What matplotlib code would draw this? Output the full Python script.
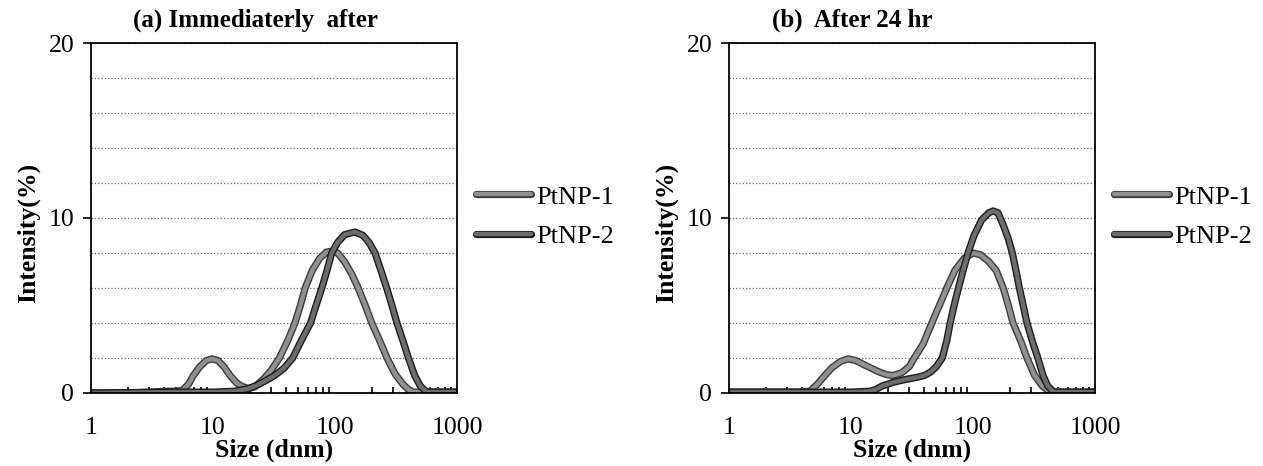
import numpy as np
import matplotlib
matplotlib.use('Agg')
import matplotlib.pyplot as plt
import matplotlib.patheffects as pe
from matplotlib.ticker import LogLocator, FixedLocator, NullFormatter

plt.rcParams['font.family'] = ['Liberation Serif', 'DejaVu Serif']

# (a) immediately after
a1_size = [1, 2, 3, 4, 5, 5.6, 6.3, 6.9, 7.8, 8.8, 9.8, 11, 12.3, 13.8, 15.5, 17, 19.5,
           22, 26, 30, 35, 41, 47, 52, 57, 65, 75, 85, 94, 105, 120, 137, 155, 177, 200,
           232, 267, 310, 360, 400, 437, 500, 600, 1000]
a1_int = [0, 0, 0.05, 0.1, 0.1, 0.15, 0.5, 1.0, 1.5, 1.85, 1.95, 1.85, 1.5, 1.0, 0.6, 0.4,
          0.25, 0.35, 0.8, 1.3, 2.0, 3.0, 4.0, 5.0, 6.0, 7.0, 7.7, 8.05, 8.1, 8.0, 7.5, 6.8,
          6.0, 5.0, 4.0, 3.0, 2.0, 1.1, 0.5, 0.2, 0.05, 0.05, 0.05, 0.05]
a2_size = [1, 5, 10, 15, 19.5, 23, 27, 32, 38, 45, 53, 63, 70, 78, 86, 94, 105, 120, 146,
           170, 190, 213, 238, 265, 293, 322, 360, 400, 450, 500, 565, 700, 1000]
a2_int = [0, 0.05, 0.05, 0.1, 0.25, 0.45, 0.7, 1.0, 1.4, 2.0, 3.0, 4.0, 5.0, 6.0, 7.0, 8.0,
          8.6, 9.05, 9.2, 9.0, 8.6, 8.0, 7.0, 6.0, 5.0, 4.0, 3.0, 2.0, 1.0, 0.4, 0.05, 0.05,
          0.05]

# (b) after 24 hr
b1_size = [1, 2, 3, 4, 4.6, 5.3, 6.1, 7, 8.2, 9.5, 11, 12.5, 14.3, 17, 19.5, 22, 26, 30,
           33, 39, 46, 53, 61, 71, 85, 100, 115, 135, 155, 177, 195, 213, 245, 277, 320,
           370, 427, 600, 1000]
b1_int = [0.05, 0.05, 0.05, 0.05, 0.1, 0.5, 1.0, 1.45, 1.8, 1.95, 1.85, 1.65, 1.45, 1.2,
          1.05, 1.0, 1.15, 1.5, 2.0, 2.8, 4.0, 5.0, 6.0, 7.0, 7.7, 8.0, 7.9, 7.5, 7.0, 6.0,
          5.0, 4.0, 3.0, 2.0, 1.0, 0.4, 0.05, 0.05, 0.05]
b2_size = [1, 5, 10, 14.3, 16, 18, 22, 27, 35, 40, 45, 50, 56, 61, 65, 70, 76, 83, 91, 102,
           118, 135, 146, 160, 177, 195, 210, 225, 240, 258, 277, 305, 340, 375, 410, 460,
           600, 1000]
b2_int = [0.05, 0.05, 0.05, 0.1, 0.2, 0.4, 0.6, 0.75, 0.9, 1.0, 1.2, 1.5, 2.0, 3.0, 4.0,
          5.0, 6.0, 7.0, 8.0, 9.0, 9.9, 10.3, 10.4, 10.3, 9.6, 8.8, 8.0, 7.0, 6.0, 5.0, 4.0,
          3.0, 2.0, 1.0, 0.4, 0.05, 0.05, 0.05]

labels = ['PtNP-1', 'PtNP-2']
fill_col = ['#909090', '#6c6c6c']
edge_col = ['#3c3c3c', '#1c1c1c']

fig = plt.figure(figsize=(12.63, 4.66), dpi=100)
ax_a = fig.add_axes([91 / 1263, 0.1567, 366 / 1263, 0.751])
ax_b = fig.add_axes([729 / 1263, 0.1567, 366 / 1263, 0.751])

panels = [(ax_a, [(a1_size, a1_int), (a2_size, a2_int)]),
          (ax_b, [(b1_size, b1_int), (b2_size, b2_int)])]

for ax, series in panels:
    for i, (s, v) in enumerate(series):
        ax.plot(s, v, color=fill_col[i], lw=3.2, solid_capstyle='round',
                solid_joinstyle='round', label=labels[i],
                path_effects=[pe.Stroke(linewidth=5.2, foreground=edge_col[i]),
                              pe.Normal()])
    ax.set_xscale('log')
    ax.set_xlim(1, 1000)
    ax.set_ylim(0, 20)
    ax.set_yticks([0, 10, 20])
    ax.yaxis.set_minor_locator(FixedLocator([2, 4, 6, 8, 12, 14, 16, 18]))
    ax.grid(True, which='both', axis='y', ls=':', lw=0.9, color='#6a6a6a')
    ax.set_xticks([1, 10, 100, 1000])
    ax.set_xticklabels(['1', '10', '100', '1000'])
    ax.xaxis.set_minor_locator(LogLocator(base=10, subs=np.arange(2, 10), numticks=10))
    ax.xaxis.set_minor_formatter(NullFormatter())
    ax.tick_params(axis='x', which='major', direction='in', length=0, pad=17,
                   labelsize=18.5)
    ax.tick_params(axis='x', which='minor', direction='in', length=4, width=1.2)
    ax.tick_params(axis='y', which='major', direction='out', length=6, width=1.2,
                   labelsize=18.5, pad=6)
    ax.tick_params(axis='y', which='minor', length=0)
    for sp in ax.spines.values():
        sp.set_linewidth(1.3)
    ax.set_xlabel('Size (dnm)', fontsize=18.5, fontweight='bold')
    ax.xaxis.set_label_coords(0.5, -0.13)
    ax.set_ylabel('Intensity(%)', fontsize=18.5, fontweight='bold')
    ax.yaxis.set_label_coords(-0.14, 0.457)
    ax.legend(loc='center left', bbox_to_anchor=(ax.get_position().x1 + 19 / 1263, 0.5354),
              bbox_transform=fig.transFigure, frameon=False, fontsize=19,
              handlelength=2.1, handletextpad=0.2, labelspacing=0.6, borderpad=0,
              borderaxespad=0)

fig.text(133 / 1263, 0.957, '(a) Immediaterly  after', fontsize=18, fontweight='bold',
         ha='left', va='center')
fig.text(772 / 1263, 0.957, '(b)  After 24 hr', fontsize=18, fontweight='bold',
         ha='left', va='center')

fig.savefig('out.png', dpi=100)
